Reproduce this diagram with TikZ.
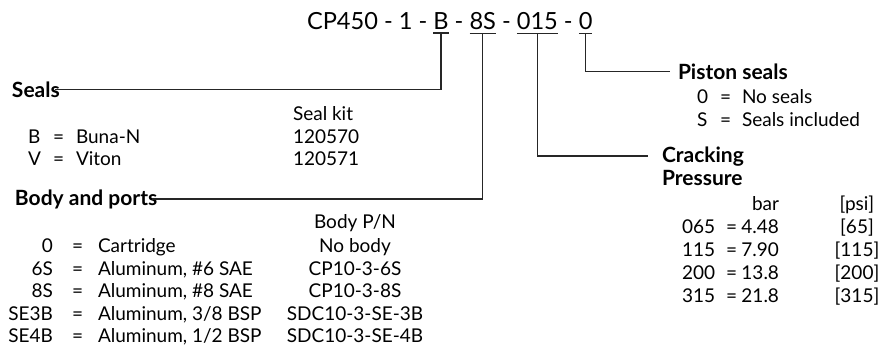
\documentclass[tikz,border=0pt]{standalone}
\usepackage{fontspec}
\setmainfont{Lato}
\begin{document}
\begin{tikzpicture}[x=1pt,y=-1pt,
  every node/.style={inner sep=0pt, outer sep=0pt, font=\fontsize{19}{22}\selectfont},
  ttl/.style={font=\fontsize{23.6}{28}\selectfont, anchor=base west, inner ysep=3pt},
  head/.style={font=\fontsize{21}{24}\selectfont\bfseries, anchor=base west},
  tx/.style={anchor=base west},
  txr/.style={anchor=base east},
  txc/.style={anchor=base},
  conn/.style={line width=1.2pt, black!85}]
\useasboundingbox (0,0) rectangle (887,348);
% title
\node[ttl] (t1) at (307,30) {CP450 - 1 -\ \mbox{}};
\node[ttl] (tB) at (t1.base east) {B};
\node[ttl] (t2) at (tB.base east) {\mbox{}\ -\ \mbox{}};
\node[ttl] (t8S) at (t2.base east) {8S};
\node[ttl] (t3) at (t8S.base east) {\mbox{}\ -\ \mbox{}};
\node[ttl] (t015) at (t3.base east) {015};
\node[ttl] (t4) at (t015.base east) {\mbox{}\ -\ \mbox{}};
\node[ttl] (t0) at (t4.base east) {0};
\foreach \n in {tB,t8S,t015,t0} \draw[conn] (\n.south west) -- (\n.south east);
% seals
\node[head] (seals) at (12,97) {Seals};
\node[tx] (skit) at (293,120) {Seal kit};
\node[tx] (cB) at (28,143) {B};
\node[tx] (eB) at (53,143) {=};
\node[tx] (dB) at (76,143) {Buna-N};
\node[tx] (kB) at (293,143) {120570};
\node[tx] (cV) at (28,165) {V};
\node[tx] (eV) at (53,165) {=};
\node[tx] (dV) at (76,165) {Viton};
\node[tx] (kV) at (293,165) {120571};
% body and ports
\node[head] (body) at (15,205) {Body and ports};
\node[txc] (bpn) at (355,228) {Body P/N};
\foreach \c/\d/\p/\y [count=\i] in {0/Cartridge/No body/252, 6S/{Aluminum, \#6 SAE}/CP10-3-6S/275, 8S/{Aluminum, \#8 SAE}/CP10-3-8S/297, SE3B/{Aluminum, 3/8 BSP}/SDC10-3-SE-3B/320, SE4B/{Aluminum, 1/2 BSP}/SDC10-3-SE-4B/342}{
  \node[txr] (bc\i) at (53,\y) {\c};
  \node[tx] (be\i) at (72,\y) {=};
  \node[tx] (bd\i) at (98,\y) {\d};
  \node[txc] (bp\i) at (355,\y) {\p};
}
% piston seals
\node[head] (piston) at (678,79) {Piston seals};
\node[tx] (p0) at (697,103) {0};
\node[tx] (pe0) at (720,103) {=};
\node[tx] (pd0) at (742,103) {No seals};
\node[tx] (pS) at (697,126) {S};
\node[tx] (peS) at (720,126) {=};
\node[tx] (pdS) at (742,126) {Seals included};
% cracking pressure
\node[head] (crack) at (662,162) {Cracking};
\node[head] (press) at (662,185) {Pressure};
\node[txr] (hbar) at (779,210) {bar};
\node[txc] (hpsi) at (857,210) {[psi]};
\foreach \c/\v/\p/\y [count=\i] in {065/4.48/65/233, 115/7.90/115/256, 200/13.8/200/279, 315/21.8/315/302}{
  \node[tx] (cc\i) at (682,\y) {\c};
  \node[tx] (ce\i) at (726,\y) {=};
  \node[txr] (cv\i) at (779,\y) {\v};
  \node[txc] (cp\i) at (857,\y) {[\p]};
}
% connectors
\draw[conn] (tB.south) |- ([xshift=-5pt]seals.east);
\draw[conn] (t8S.south) |- ([xshift=-5pt]body.east);
\draw[conn] (t015.south) |- ([xshift=-14pt]crack.west);
\draw[conn] (t0.south) |- ([xshift=-8pt]piston.west);
\end{tikzpicture}
\end{document}
